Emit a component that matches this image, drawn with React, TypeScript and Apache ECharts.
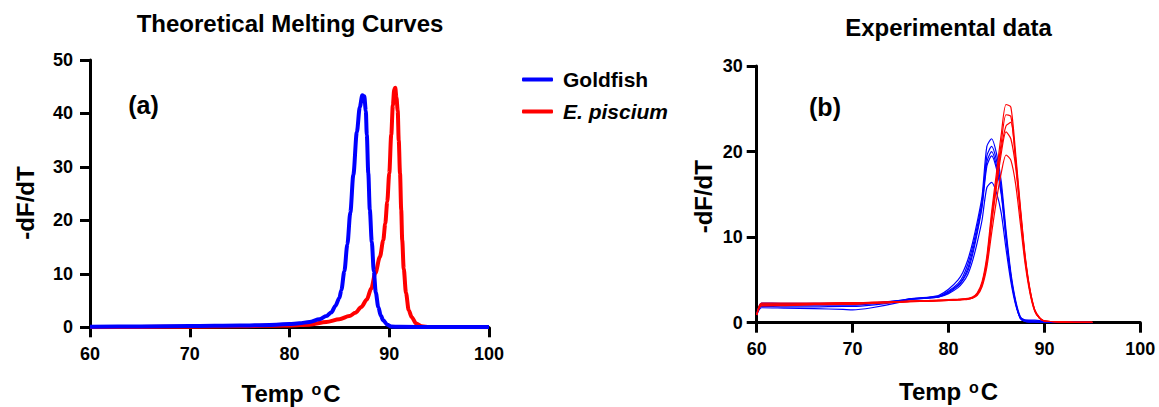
import React, { useEffect, useRef } from "react";
import * as echarts from "echarts";

const FONT = "'Liberation Sans', Arial, Helvetica, sans-serif";
const BLUE = "#0000ff";
const RED = "#ff0000";

// ---------- Panel (a): theoretical melting curves, [temp °C, -dF/dT] ----------
const theoGoldfish: [number, number][] = [
  [60, 0.1], [65, 0.15], [70, 0.22], [75, 0.32], [78, 0.45], [80, 0.6], [81, 0.75],
  [82, 1.0], [83, 1.5], [83.7, 2.1], [84.2, 2.8], [84.6, 4.0], [85.0, 5.5], [85.2, 7.0],
  [85.5, 10.5], [85.8, 15.5], [86.1, 21.5], [86.4, 28.5], [86.75, 36.5], [87.05, 41.2],
  [87.3, 43.4], [87.5, 43.2], [87.65, 40.5], [87.75, 36], [87.9, 28.8], [88.05, 22],
  [88.25, 16.0], [88.45, 10.5], [88.65, 6.5], [88.9, 3.8], [89.15, 2.2], [89.4, 1.3],
  [89.8, 0.5], [90.2, 0.15], [91, 0.08], [95, 0.05], [100, 0.05],
];
const theoPiscium: [number, number][] = [
  [60, 0.03], [65, 0.06], [70, 0.12], [75, 0.2], [80, 0.35], [82, 0.5], [83.7, 1.0],
  [85, 1.5], [86, 2.1], [86.6, 2.7], [87.2, 3.8], [87.75, 5.2], [88.2, 7.3], [88.6, 10.1],
  [89.07, 13.2], [89.4, 16.3], [89.6, 19.4], [89.8, 23.5], [90.0, 28.8], [90.2, 36],
  [90.36, 41.5], [90.5, 44.5], [90.6, 44.8], [90.72, 43], [90.85, 40.5], [90.95, 35],
  [91.08, 28.8], [91.2, 22], [91.3, 16.3], [91.45, 11], [91.68, 6.4], [91.95, 3.2],
  [92.25, 1.9], [92.7, 0.7], [93.25, 0.2], [94, 0.06], [100, 0.03],
];

// ---------- Panel (b): experimental replicates ----------
const expTemps = [
  60, 60.5, 63, 66, 69, 70, 72, 75, 76, 78, 79, 80, 81, 81.5, 82, 82.5, 83, 83.5, 84,
  84.5, 85, 85.5, 86, 86.5, 87, 87.5, 88, 88.5, 89, 89.5, 90, 92, 95,
];
const goldfishRep1 = [1.0, 2.3, 2.25, 2.25, 2.25, 2.25, 2.3, 2.6, 2.8, 3.0, 3.2, 3.9, 5.0, 5.9, 7.3, 9.3, 11.8, 14.8, 20.6, 21.5, 19.8, 16.5, 10.8, 5.9, 2.6, 0.7, 0.3, 0.3, 0.3, 0.25, 0.15, 0.08, 0.03];
const goldfishRep2 = [0.9, 2.2, 2.15, 2.15, 2.15, 2.15, 2.25, 2.6, 2.8, 2.95, 3.1, 3.7, 4.6, 5.4, 6.8, 8.8, 11.3, 14.2, 19.5, 20.6, 19.0, 15.8, 10.3, 5.6, 2.4, 0.5, 0.15, 0.1, 0.08, 0.06, 0.05, 0.04, 0.02];
const goldfishRep3 = [0.9, 2.1, 2.05, 2.05, 2.05, 2.05, 2.2, 2.55, 2.75, 2.9, 3.05, 3.6, 4.4, 5.1, 6.3, 8.3, 10.8, 13.8, 18.8, 20.0, 18.4, 15.3, 10.0, 5.4, 2.3, 0.5, 0.15, 0.1, 0.08, 0.06, 0.05, 0.04, 0.02];
const goldfishRep4 = [0.9, 1.9, 1.85, 1.85, 1.9, 1.9, 2.05, 2.5, 2.7, 2.9, 3.0, 3.5, 4.3, 5.0, 6.0, 7.9, 10.5, 13.5, 18.3, 19.5, 18.0, 15.0, 9.8, 5.3, 2.3, 0.6, 0.3, 0.25, 0.22, 0.2, 0.12, 0.06, 0.02];
const goldfishRep5 = [0.9, 1.75, 1.7, 1.65, 1.55, 1.5, 1.75, 2.4, 2.75, 2.9, 3.0, 3.4, 4.1, 4.7, 5.6, 7.2, 9.4, 12.0, 15.8, 16.4, 15.2, 12.8, 8.6, 4.8, 2.1, 0.5, 0.15, 0.1, 0.08, 0.06, 0.05, 0.04, 0.02];
const pisciumRep1 = [0.9, 2.3, 2.3, 2.3, 2.35, 2.35, 2.4, 2.5, 2.55, 2.6, 2.65, 2.7, 2.75, 2.78, 2.85, 3.0, 3.5, 4.8, 7.8, 13.0, 17.5, 22.0, 25.5, 25.2, 19.8, 13.5, 7.8, 3.9, 1.5, 0.6, 0.2, 0.08, 0.03];
const pisciumRep2 = [0.9, 2.2, 2.2, 2.25, 2.3, 2.3, 2.35, 2.45, 2.5, 2.55, 2.6, 2.65, 2.7, 2.75, 2.8, 2.95, 3.4, 4.6, 7.4, 12.4, 16.8, 21.0, 24.3, 24.1, 19.2, 13.2, 7.6, 3.8, 1.5, 0.6, 0.2, 0.08, 0.03];
const pisciumRep3 = [0.9, 2.1, 2.1, 2.2, 2.25, 2.25, 2.3, 2.45, 2.5, 2.55, 2.6, 2.65, 2.7, 2.72, 2.78, 2.9, 3.3, 4.5, 7.2, 12.0, 16.3, 20.4, 23.0, 23.4, 18.8, 12.9, 7.4, 3.7, 1.4, 0.5, 0.2, 0.08, 0.03];
const pisciumRep4 = [0.9, 2.05, 2.05, 2.15, 2.2, 2.2, 2.3, 2.4, 2.45, 2.5, 2.55, 2.6, 2.65, 2.7, 2.75, 2.9, 3.3, 4.4, 7.0, 11.6, 15.8, 19.8, 22.3, 21.5, 18.2, 12.6, 7.2, 3.6, 1.4, 0.5, 0.2, 0.08, 0.03];
const pisciumRep5 = [0.9, 1.95, 2.0, 2.1, 2.15, 2.15, 2.25, 2.4, 2.45, 2.5, 2.55, 2.6, 2.65, 2.68, 2.72, 2.85, 3.2, 4.2, 6.5, 10.5, 14.3, 17.5, 19.6, 19.0, 16.2, 11.5, 6.8, 3.4, 1.3, 0.5, 0.2, 0.08, 0.03];

const goldfishReps = [goldfishRep1, goldfishRep2, goldfishRep3, goldfishRep4, goldfishRep5];
const pisciumReps = [pisciumRep1, pisciumRep2, pisciumRep3, pisciumRep4, pisciumRep5];

// ---------- Axis ticks ----------
const xTicks = { min: 60, max: 100, interval: 10 };
const yTicksA = { min: 0, max: 50, interval: 10 };
const yTicksB = { min: 0, max: 30, interval: 10 };

const titleA = "Theoretical Melting Curves";
const titleB = "Experimental data";
const yName = "-dF/dT";
const legendNames = ["Goldfish", "E. piscium"];

const axisCommon = (labelMargin: number) => ({
  type: "value" as const,
  axisLine: { show: true, onZero: false, lineStyle: { color: "#000", width: 3 } },
  axisTick: { show: true, length: 10, lineStyle: { color: "#000", width: 3 } },
  axisLabel: { fontSize: 18, fontWeight: "bold", color: "#000", fontFamily: FONT, margin: labelMargin },
  splitLine: { show: false },
});

export default function App() {
  const ref = useRef<HTMLDivElement>(null);

  useEffect(() => {
    if (!ref.current) return;
    const chart = echarts.init(ref.current, undefined, { renderer: "svg" });

    const expSeries: any[] = [];
    goldfishReps.forEach((rep, k) => {
      expSeries.push({
        name: `Goldfish replicate ${k + 1}`,
        type: "line",
        xAxisIndex: 1,
        yAxisIndex: 1,
        data: expTemps.map((t, i) => [t, rep[i]]),
        showSymbol: false,
        smooth: 0.25,
        color: BLUE,
        lineStyle: { color: BLUE, width: 1.2 },
        z: 2,
      });
    });
    pisciumReps.forEach((rep, k) => {
      expSeries.push({
        name: `E. piscium replicate ${k + 1}`,
        type: "line",
        xAxisIndex: 1,
        yAxisIndex: 1,
        data: expTemps.map((t, i) => [t, rep[i]]),
        showSymbol: false,
        smooth: 0.25,
        color: RED,
        lineStyle: { color: RED, width: 1.2 },
        z: 3,
      });
    });

    const supText = (x: number, y: number) => ({
      type: "text",
      x,
      y,
      style: {
        text: "Temp {s|o}C",
        fontSize: 24,
        fontWeight: "bold",
        fontFamily: FONT,
        fill: "#000",
        align: "center",
        verticalAlign: "middle",
        rich: {
          s: { fontSize: 16, fontWeight: "bold", fontFamily: FONT, fill: "#000", verticalAlign: "top", padding: [0, 2, 0, 1] },
        },
      },
    });

    const labelText = (text: string, x: number, y: number, size: number, rotation = 0) => ({
      type: "text",
      x,
      y,
      rotation,
      style: {
        text,
        fontSize: size,
        fontWeight: "bold",
        fontFamily: FONT,
        fill: "#000",
        align: "center",
        verticalAlign: "middle",
      },
    });

    chart.setOption({
      animation: false,
      textStyle: { fontFamily: FONT },
      grid: [
        { left: 90, top: 60, width: 399, height: 267.3 },
        { left: 756.7, top: 66, width: 383.6, height: 256.7 },
      ],
      xAxis: [
        { gridIndex: 0, ...xTicks, ...axisCommon(18) },
        { gridIndex: 1, ...xTicks, ...axisCommon(17) },
      ],
      yAxis: [
        { gridIndex: 0, ...yTicksA, ...axisCommon(17) },
        { gridIndex: 1, ...yTicksB, ...axisCommon(14) },
      ],
      legend: {
        data: legendNames,
        orient: "vertical",
        left: 517,
        top: 64,
        itemWidth: 31,
        itemHeight: 4,
        itemGap: 11,
        icon: "roundRect",
        selectedMode: false,
        formatter: (name: string) => (name === "E. piscium" ? `{i|${name}}` : `{n|${name}}`),
        textStyle: {
          color: "#000",
          fontSize: 21,
          fontWeight: "bold",
          fontFamily: FONT,
          padding: [0, 0, 0, 5],
          rich: {
            n: { fontSize: 21, fontWeight: "bold", fontFamily: FONT, color: "#000", lineHeight: 24 },
            i: { fontSize: 21, fontWeight: "bold", fontStyle: "italic", fontFamily: FONT, color: "#000", lineHeight: 24 },
          },
        },
      },
      graphic: [
        labelText(titleA, 290, 23, 24),
        labelText(titleB, 948.5, 27, 24),
        labelText("(a)", 143.5, 104.5, 25),
        labelText("(b)", 825, 106.5, 25),
        labelText(yName, 25, 203, 24, Math.PI / 2),
        labelText(yName, 703.7, 196.7, 24, Math.PI / 2),
        supText(291, 393.4),
        supText(948.5, 391.7),
      ],
      series: [
        {
          name: "E. piscium",
          type: "line",
          data: theoPiscium,
          showSymbol: false,
          smooth: 0.3,
          smoothMonotone: "x",
          color: RED,
          lineStyle: { color: RED, width: 4 },
          z: 2,
        },
        {
          name: "Goldfish",
          type: "line",
          data: theoGoldfish,
          showSymbol: false,
          smooth: 0.3,
          smoothMonotone: "x",
          color: BLUE,
          lineStyle: { color: BLUE, width: 4 },
          z: 3,
        },
        ...expSeries,
      ],
    });

    return () => chart.dispose();
  }, []);

  return (
    <div
      ref={ref}
      style={{ position: "absolute", left: 0, top: 0, width: 1159, height: 407, background: "#fff" }}
    />
  );
}
